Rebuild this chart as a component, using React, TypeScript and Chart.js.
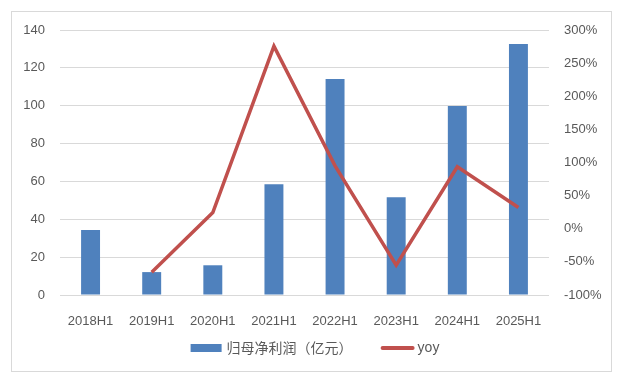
import React, { useEffect, useRef } from "react";
import { Chart, registerables } from "chart.js";

Chart.register(...registerables);

const categories = ["2018H1", "2019H1", "2020H1", "2021H1", "2022H1", "2023H1", "2024H1", "2025H1"];
const profit = [34.3, 12.1, 15.7, 58.5, 114.1, 51.6, 99.8, 132.6];
const yoy = [null, -65.5, 24.5, 275.5, 95, -55, 93.5, 32];
const barLabel = "归母净利润（亿元）";
const lineLabel = "yoy";

const BLUE = "#4F81BD";
const RED = "#C0504D";
const TEXT = "#595959";
const GRID = "#D9D9D9";
const FONT = "'Liberation Sans', Arial, sans-serif";

const legendPlugin = {
  id: "customLegend",
  afterDraw(chart: any) {
    const ctx = chart.ctx;
    const ds = chart.data.datasets;
    ctx.save();
    ctx.font = "14px 'Noto Sans CJK SC', sans-serif";
    const t1 = ctx.measureText(ds[0].label).width;
    ctx.font = "14px " + FONT;
    const t2 = ctx.measureText(ds[1].label).width;
    const sw1 = 31, g1 = 5, itemGap = 28, sw2 = 34, g2 = 3;
    const total = sw1 + g1 + t1 + itemGap + sw2 + g2 + t2;
    const cx = 315;
    let x = cx - total / 2;
    const y = 348;
    ctx.fillStyle = ds[0].backgroundColor;
    ctx.fillRect(x, y - 4, sw1, 8);
    x += sw1 + g1;
    ctx.fillStyle = TEXT;
    ctx.textBaseline = "middle";
    ctx.textAlign = "left";
    ctx.font = "14px 'Noto Sans CJK SC', sans-serif";
    ctx.fillText(ds[0].label, x, y);
    x += t1 + itemGap;
    ctx.strokeStyle = ds[1].borderColor;
    ctx.lineWidth = 4;
    ctx.lineCap = "round";
    ctx.beginPath();
    ctx.moveTo(x + 2, y);
    ctx.lineTo(x + sw2 - 2, y);
    ctx.stroke();
    x += sw2 + g2;
    ctx.font = "14px " + FONT;
    ctx.fillText(ds[1].label, x, y);
    ctx.restore();
  },
};

export default function App() {
  const ref = useRef<HTMLCanvasElement>(null);
  useEffect(() => {
    const chart = new Chart(ref.current as HTMLCanvasElement, {
      type: "bar",
      data: {
        labels: categories,
        datasets: [
          {
            type: "bar",
            label: barLabel,
            data: profit,
            backgroundColor: BLUE,
            yAxisID: "y",
            barPercentage: 0.31,
            categoryPercentage: 1,
            order: 2,
          },
          {
            type: "line",
            label: lineLabel,
            data: yoy as any,
            borderColor: RED,
            backgroundColor: RED,
            borderWidth: 3.5,
            pointRadius: 0,
            tension: 0,
            yAxisID: "y1",
            order: 1,
          },
        ],
      },
      plugins: [legendPlugin],
      options: {
        animation: false,
        responsive: false,
        maintainAspectRatio: false,
        layout: { padding: { top: 30, bottom: 39, left: 0, right: 0 } },
        plugins: { legend: { display: false }, tooltip: { enabled: false } },
        scales: {
          x: {
            grid: { display: false },
            border: { display: false },
            ticks: { color: TEXT, font: { size: 13, family: FONT }, padding: 11, maxRotation: 0 },
            afterFit: (s: any) => { s.height = 40; },
          },
          y: {
            position: "left",
            min: 0,
            max: 140,
            grid: { color: GRID, lineWidth: 1, drawTicks: false },
            border: { display: false },
            ticks: { stepSize: 20, color: TEXT, font: { size: 13, family: FONT }, padding: 15 },
            afterFit: (s: any) => { s.width = 60; },
          },
          y1: {
            position: "right",
            min: -100,
            max: 300,
            grid: { display: false, drawTicks: false },
            border: { display: false },
            ticks: {
              stepSize: 50,
              color: TEXT,
              font: { size: 13, family: FONT },
              padding: 15,
              callback: (v: any) => v + "%",
            },
            afterFit: (s: any) => { s.width = 68; },
          },
        },
      },
    } as any);
    return () => chart.destroy();
  }, []);
  return (
    <div style={{ position: "fixed", left: 0, top: 0, width: 617, height: 374, background: "#fff" }}>
      <div
        style={{
          position: "absolute",
          left: 11,
          top: 11,
          width: 601,
          height: 361,
          boxSizing: "border-box",
          border: "1px solid #D9D9D9",
        }}
      />
      <canvas ref={ref} width={617} height={374} style={{ position: "absolute", left: 0, top: 0 }} />
    </div>
  );
}
